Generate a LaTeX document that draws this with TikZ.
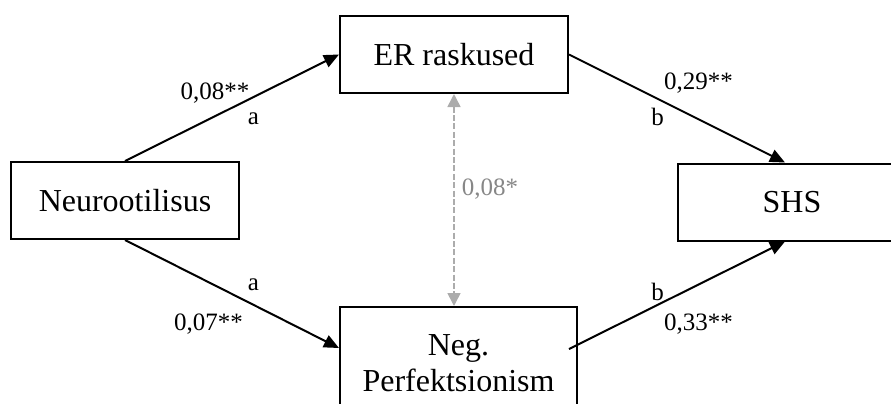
\documentclass[tikz,border=0pt]{standalone}
\usepackage{fontspec}
\setmainfont{Liberation Serif}
\usetikzlibrary{arrows.meta}

\definecolor{corrline}{RGB}{172,172,172}
\definecolor{corrtext}{RGB}{135,135,135}

\begin{document}
\begin{tikzpicture}[x=0.5pt,y=-0.5pt,
    var/.style={draw,line width=1pt,minimum width=114pt,minimum height=38.5pt,inner sep=0pt,align=center,font=\fontsize{16}{18}\selectfont},
    coef/.style={inner sep=0pt,font=\fontsize{12.5}{15}\selectfont},
    effect/.style={-{Triangle[length=7.5pt,width=6.5pt]},line width=1pt},
    corr/.style={{Triangle[length=6.5pt,width=6.5pt]}-{Triangle[length=6.5pt,width=6.5pt]},corrline,line width=0.8pt,dash pattern=on 3pt off 1.2pt}]
  \clip (0,0) rectangle (891,403);
  \node[var] (neuro) at (125,200.5) {Neurootilisus};
  \node[var] (er) at (454,54.5) {ER raskused};
  \node[var,minimum width=118.5pt,minimum height=56pt] (neg) at (458.5,363) {Neg.\\Perfektsionism};
  \node[var] (shs) at (792,202) {SHS};
  \path[effect]
    (neuro.north) edge node[coef,pos=.42,yshift=11.5pt] {0,08**}
                       node[coef,pos=.6,yshift=-11pt] {a} (er.west)
    (neuro.south) edge node[coef,pos=.6,yshift=10pt] {a}
                       node[coef,pos=.39,yshift=-21pt] {0,07**} ([yshift=7.5pt]neg.west)
    (er.east) edge node[coef,pos=.6,yshift=18pt] {0,29**}
                   node[coef,pos=.41,yshift=-9pt] {b} ([xshift=-3.5pt]shs.north)
    ([xshift=-4.5pt,yshift=7pt]neg.east) edge node[coef,pos=.41,yshift=6.5pt] {b}
                   node[coef,pos=.6,yshift=-20pt] {0,33**} ([xshift=-3.5pt]shs.south);
  \path (er.south) edge[corr] node[coef,pos=.45,right,inner sep=3.5pt,text=corrtext] {0,08*} (er.south |- neg.north);
\end{tikzpicture}
\end{document}
